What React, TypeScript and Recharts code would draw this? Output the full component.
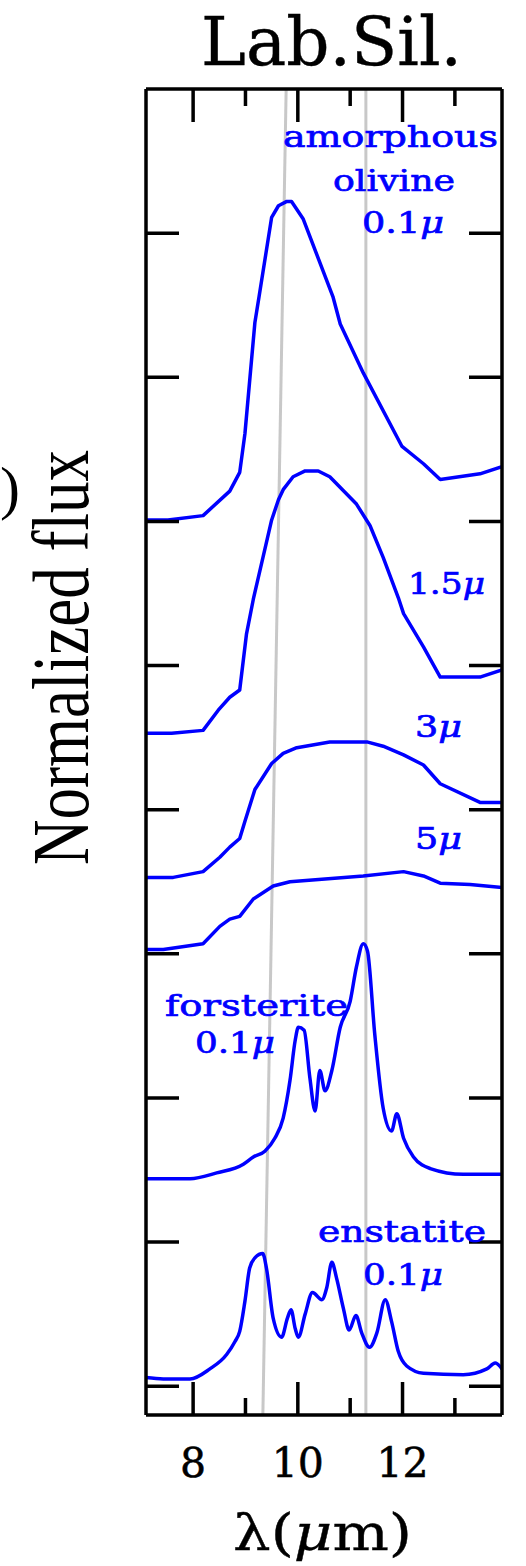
import React from 'react';
import { LineChart, Line, XAxis, YAxis, ReferenceLine } from 'recharts';

// wavelength grid (µm) and normalized flux, offset per sample
const amOl01Wave = [7.1, 7.52, 8.19, 8.7, 8.89, 8.99, 9.18, 9.26, 9.5, 9.63, 9.79, 9.88, 10.1, 10.67, 10.81, 11.25, 11.99, 12.4, 12.72, 13.48, 13.9];
const amOl01Flux = [6.01, 6.01, 6.04, 6.21, 6.34, 6.61, 7.38, 7.56, 8.11, 8.19, 8.22, 8.22, 8.1, 7.56, 7.37, 7.03, 6.52, 6.4, 6.29, 6.33, 6.38];

const amOl15Wave = [7.1, 7.59, 8.19, 8.48, 8.7, 8.89, 9.02, 9.15, 9.5, 9.63, 9.72, 9.91, 10.14, 10.39, 10.61, 11.12, 11.38, 11.63, 11.92, 12.02, 12.4, 12.72, 13.48, 13.9];
const amOl15Flux = [4.53, 4.53, 4.55, 4.69, 4.78, 4.83, 5.22, 5.46, 6.01, 6.15, 6.22, 6.31, 6.35, 6.35, 6.31, 6.12, 5.97, 5.75, 5.47, 5.36, 5.13, 4.92, 4.92, 4.97];

const amOl3Wave = [7.1, 7.62, 8.19, 8.51, 8.7, 8.89, 8.99, 9.18, 9.5, 9.72, 9.98, 10.61, 11.32, 11.63, 12.02, 12.4, 12.72, 13.48, 13.9];
const amOl3Flux = [3.53, 3.53, 3.57, 3.67, 3.74, 3.8, 3.92, 4.14, 4.32, 4.39, 4.43, 4.47, 4.47, 4.44, 4.38, 4.31, 4.18, 4.05, 4.05];

const amOl5Wave = [7.1, 7.43, 8.19, 8.51, 8.7, 8.89, 9.15, 9.53, 9.85, 11.25, 12.02, 12.4, 12.72, 13.29, 13.9];
const amOl5Flux = [3.03, 3.03, 3.07, 3.19, 3.24, 3.26, 3.38, 3.47, 3.5, 3.54, 3.57, 3.54, 3.49, 3.48, 3.46];

const forstWave = [7.1, 7.94, 8.45, 8.96, 9.15, 9.37, 9.56, 9.72, 9.85, 9.95, 10.01, 10.12, 10.23, 10.33, 10.42, 10.52, 10.65, 10.81, 11.0, 11.12, 11.25, 11.33, 11.47, 11.63, 11.79, 11.89, 12.02, 12.21, 12.53, 13.16, 13.9];
const forstFlux = [1.44, 1.44, 1.48, 1.54, 1.59, 1.63, 1.72, 1.86, 2.12, 2.4, 2.49, 2.47, 2.14, 1.91, 2.19, 2.05, 2.19, 2.49, 2.67, 2.91, 3.07, 3.02, 2.44, 1.93, 1.77, 1.89, 1.72, 1.59, 1.51, 1.47, 1.47];

const enstWave = [7.1, 7.43, 7.94, 8.32, 8.64, 8.8, 8.89, 8.99, 9.08, 9.18, 9.33, 9.4, 9.53, 9.69, 9.8, 9.87, 9.95, 10.01, 10.14, 10.28, 10.46, 10.55, 10.65, 10.74, 10.87, 10.98, 11.11, 11.22, 11.37, 11.51, 11.67, 11.79, 11.92, 12.08, 12.4, 13.16, 13.61, 13.77, 13.9];
const enstFlux = [0.06, 0.05, 0.05, 0.12, 0.22, 0.31, 0.38, 0.59, 0.82, 0.89, 0.92, 0.82, 0.47, 0.34, 0.47, 0.53, 0.4, 0.34, 0.5, 0.65, 0.6, 0.68, 0.86, 0.75, 0.54, 0.39, 0.49, 0.37, 0.27, 0.37, 0.6, 0.45, 0.24, 0.14, 0.09, 0.08, 0.12, 0.16, 0.12];

const xDomain = [7.1, 13.9];
const yDomain = [-0.2, 9];
const xTicks = [8, 9, 10, 11, 12, 13];
const xMajorTicks = [8, 10, 12];
const yTicks = [0, 1, 2, 3, 4, 5, 6, 7, 8];

// 9.7 µm / 11.3 µm guides
const slantGuide = [{ x: 9.777, y: 9 }, { x: 9.332, y: -0.2 }];
const featureGuide = 11.3;

const toPoints = (w: number[], f: number[]) => w.map((x, i) => ({ x, y: f[i] }));

const series = [
  { key: 'am01', data: toPoints(amOl01Wave, amOl01Flux), type: 'linear' },
  { key: 'am15', data: toPoints(amOl15Wave, amOl15Flux), type: 'linear' },
  { key: 'am3', data: toPoints(amOl3Wave, amOl3Flux), type: 'linear' },
  { key: 'am5', data: toPoints(amOl5Wave, amOl5Flux), type: 'linear' },
  { key: 'fo', data: toPoints(forstWave, forstFlux), type: 'monotone' },
  { key: 'en', data: toPoints(enstWave, enstFlux), type: 'monotone' },
];

const W = 526;
const H = 1566;
const MARGIN = { top: 89, right: 24, bottom: 151, left: 146 };
const BLUE = '#0000ff';
const SERIF = '"DejaVu Serif", serif';
const FRAME_W = 3.5;
const MAJOR_LEN = 33;
const MINOR_LEN = 17;
const frame = { stroke: '#000', strokeWidth: FRAME_W };

// same linear map as the x axis, for the tick marks along the top edge
const topTickX = (t: number) =>
  MARGIN.left + ((t - xDomain[0]) / (xDomain[1] - xDomain[0])) * (W - MARGIN.left - MARGIN.right);

// bottom x ticks, long at labelled wavelengths and short in between, pointing inward
const XTick = ({ x, y, payload }: any) => {
  const major = xMajorTicks.includes(payload.value);
  const len = major ? MAJOR_LEN : MINOR_LEN;
  return (
    <g>
      <line x1={x} x2={x} y1={y} y2={y - len} stroke="#000" strokeWidth={FRAME_W} />
      {major && (
        <text x={x} y={y + 62} textAnchor="middle" fontFamily={SERIF} fontSize={41} fill="#000" stroke="#000" strokeWidth={0.5}>
          {payload.value}
        </text>
      )}
    </g>
  );
};

const NoLabel = () => <g />;

// stretched label: fixed left edge, baseline and width
const Label = ({ x, y, w, size = 30, fill = BLUE, family = SERIF, bold = 0.7, children }: any) => (
  <text x={x} y={y} fontSize={size} fontFamily={family} fill={fill} stroke={fill} strokeWidth={bold}
    textLength={w} lengthAdjust="spacingAndGlyphs">
    {children}
  </text>
);

const Mu = () => <tspan fontStyle="italic">μ</tspan>;

export default function App() {
  return (
    <div style={{ position: 'absolute', left: 0, top: 0, width: W, height: H, background: '#fff' }}>
      <LineChart width={W} height={H} margin={MARGIN}>
        <XAxis xAxisId="b" dataKey="x" type="number" domain={xDomain} ticks={xTicks} interval={0} orientation="bottom"
          mirror tickSize={0} tickMargin={0} axisLine={frame} tickLine={false} tick={<XTick />} allowDataOverflow />
        <YAxis yAxisId="l" type="number" domain={yDomain} ticks={yTicks} interval={0} orientation="left"
          mirror tickSize={MAJOR_LEN} axisLine={frame} tickLine={frame} tick={<NoLabel />} allowDataOverflow />
        <YAxis yAxisId="r" type="number" domain={yDomain} ticks={yTicks} interval={0} orientation="right"
          mirror tickSize={MAJOR_LEN} axisLine={frame} tickLine={frame} tick={<NoLabel />} allowDataOverflow />

        <ReferenceLine xAxisId="b" yAxisId="l" segment={slantGuide} stroke="#c8c8c8" strokeWidth={3} ifOverflow="hidden" />
        <ReferenceLine xAxisId="b" yAxisId="l" x={featureGuide} stroke="#c8c8c8" strokeWidth={3} />

        {/* top edge of the frame */}
        <ReferenceLine xAxisId="b" yAxisId="l" y={yDomain[1]} stroke="#000" strokeWidth={FRAME_W} ifOverflow="visible" />

        {series.map((s) => (
          <Line
            key={s.key}
            xAxisId="b"
            yAxisId="l"
            data={s.data}
            dataKey="y"
            type={s.type as any}
            stroke={BLUE}
            strokeWidth={3.5}
            strokeLinejoin="round"
            dot={false}
            activeDot={false}
            isAnimationActive={false}
          />
        ))}
      </LineChart>

      <svg width={W} height={H} style={{ position: 'absolute', left: 0, top: 0, pointerEvents: 'none' }}>
        {xTicks.map((t) => (
          <line key={t} x1={topTickX(t)} x2={topTickX(t)} y1={MARGIN.top}
            y2={MARGIN.top + (xMajorTicks.includes(t) ? MAJOR_LEN : MINOR_LEN)} stroke="#000" strokeWidth={FRAME_W} />
        ))}

        <Label x={201} y={65} w={261} size={68} fill="#000" bold={0.4}>Lab.Sil.</Label>
        <text x={0} y={508} fontSize={60} fontFamily='"Liberation Serif", serif' fill="#000">)</text>
        <text transform="translate(88,865) rotate(-90)" fontSize={80} fontFamily='"Liberation Serif", serif' fill="#000"
          textLength={415} lengthAdjust="spacingAndGlyphs">Normalized flux</text>
        <Label x={233} y={1550} w={179} size={50} fill="#000" bold={0.4}>λ(<Mu />m)</Label>

        <Label x={283} y={147} w={215}>amorphous</Label>
        <Label x={333} y={191} w={122}>olivine</Label>
        <Label x={362} y={233} w={82}>0.1<Mu /></Label>
        <Label x={408} y={594} w={77}>1.5<Mu /></Label>
        <Label x={415} y={737} w={47}>3<Mu /></Label>
        <Label x={415} y={849} w={47}>5<Mu /></Label>
        <Label x={165} y={1016} w={183}>forsterite</Label>
        <Label x={195} y={1053} w={80}>0.1<Mu /></Label>
        <Label x={318} y={1242} w={168}>enstatite</Label>
        <Label x={363} y={1285} w={80}>0.1<Mu /></Label>
      </svg>
    </div>
  );
}
